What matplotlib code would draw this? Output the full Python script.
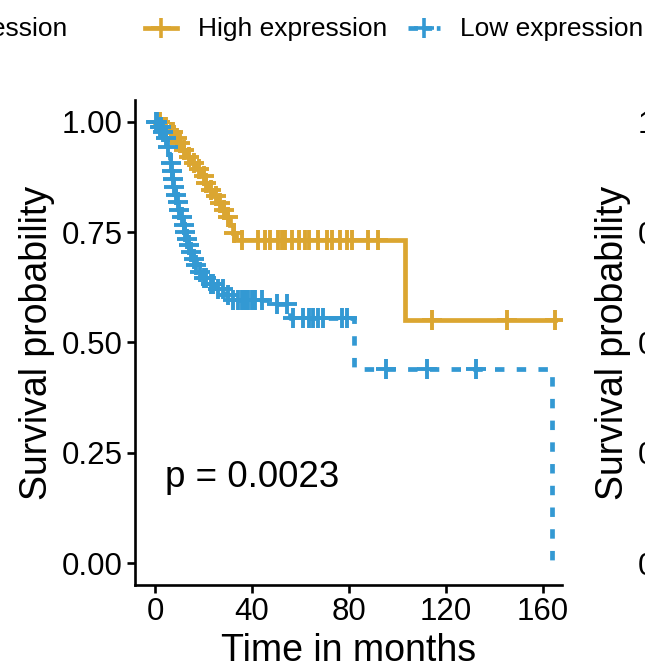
import numpy as np
import matplotlib
matplotlib.use("Agg")
import matplotlib.pyplot as plt
from matplotlib.lines import Line2D

plt.rcParams['font.family'] = ['Liberation Sans', 'DejaVu Sans']

# ---------------- data ----------------
groups = ["High expression", "Low expression"]
colors = ["#DBA631", "#3399D3"]

high_event_times = [3, 5.5, 8, 10, 11.5, 13, 15, 17, 19, 20.5, 22, 24, 26, 28, 29.5, 31, 32, 33.5, 103]
high_surv = [0.988, 0.976, 0.964, 0.951, 0.935, 0.921, 0.907, 0.893, 0.878, 0.862, 0.846, 0.831,
             0.816, 0.800, 0.783, 0.765, 0.748, 0.733, 0.55]
high_censor = [1, 2, 3.5, 4.5, 6.5, 7.5, 9, 10.5, 12, 14, 16, 18, 20, 21, 23, 25, 27, 28.5, 30, 32.5,
               35.8, 42.6, 45.4, 47.5, 50.9, 52.3, 53.7, 56.4, 59.2, 61.9, 63.3, 67.4, 70.9, 72.9,
               76.4, 79.1, 81.1, 88, 92, 114, 145, 165]
high_last = 165

low_event_times = [1.5, 3, 4, 5, 5.6, 6.2, 6.8, 7.2, 7.6, 8.2, 9, 9.6, 10.4, 11.2, 12, 12.8, 13.6,
                   14.5, 15.5, 16.8, 18, 19.8, 22, 25, 29, 31, 48, 55.5, 82, 163.7]
low_surv = [0.988, 0.977, 0.963, 0.943, 0.925, 0.907, 0.889, 0.87, 0.852, 0.835, 0.818, 0.80, 0.783,
            0.766, 0.75, 0.735, 0.72, 0.705, 0.69, 0.675, 0.66, 0.645, 0.632, 0.62, 0.608, 0.597,
            0.587, 0.556, 0.44, 0.0]
low_censor = [0.5, 1, 2, 2.5, 3.5, 4.5, 5.3, 6.5, 7, 7.4, 8, 8.6, 9.3, 10, 11, 11.8, 12.5, 13.2, 14,
              15, 16, 17, 18.5, 20, 21, 23, 24, 26, 28, 30.1, 32.2, 34.3, 35.9, 37.1, 38.4, 40, 41.3,
              44.2, 50.3, 54.5, 57, 61, 63.3, 65.2, 67.3, 69.3, 77.2, 79, 95.3, 112.1, 132.5]
low_last = 163.7

pval_text = "p = 0.0023"
x_ticks = [0, 40, 80, 120, 160]
y_ticks = [0.00, 0.25, 0.50, 0.75, 1.00]
y_ticklabels = ["0.00", "0.25", "0.50", "0.75", "1.00"]

# ---------------- figure ----------------
W, H = 645, 671
fig = plt.figure(figsize=(W / 100, H / 100), dpi=100)

def fpos(l, t, r, b):
    return [l / W, 1 - b / H, (r - l) / W, (b - t) / H]

ax = fig.add_axes(fpos(135, 100, 562, 585))
ax2 = fig.add_axes(fpos(711, 100, 1138, 585))

def style(a):
    a.set_xlim(-8.25, 167.8)
    a.set_ylim(-0.049, 1.049)
    for s in ["top", "right"]:
        a.spines[s].set_visible(False)
    for s in ["left", "bottom"]:
        a.spines[s].set_linewidth(1.9)
    a.tick_params(width=1.9, length=6, labelsize=22.5, colors="black", pad=3)
    a.set_xticks(x_ticks)
    a.set_yticks(y_ticks)
    a.set_yticklabels(y_ticklabels)
    a.set_ylabel("Survival probability", fontsize=27, labelpad=5)
    a.set_xlabel("Time in months", fontsize=27, labelpad=4)

style(ax)
style(ax2)

def km_line(times, surv, last):
    t = [0] + list(times) + [last]
    s = [1.0] + list(surv) + [surv[-1]]
    return t, s

def surv_at(times, surv, t):
    idx = np.searchsorted(np.asarray(times), t, side="right")
    return 1.0 if idx == 0 else surv[idx - 1]

series = [
    (high_event_times, high_surv, high_censor, high_last, "-"),
    (low_event_times, low_surv, low_censor, low_last, (0, (2.0, 2.6))),
]
for (et, sv, cen, last, ls), col in zip(series, colors):
    t, s = km_line(et, sv, last)
    ax.step(t, s, where="post", color=col, lw=3.4, linestyle=ls, clip_on=True,
            solid_joinstyle="miter")
    cy = [surv_at(et, sv, c) for c in cen]
    ax.plot(cen, cy, linestyle="none", marker="+", markersize=15, mew=2.8, color=col, clip_on=True)

ax.text(4, 0.195, pval_text, fontsize=26.5, ha="left", va="center")

# ---------------- legend (top strip) ----------------
lx = fig.add_axes([0, 0, 1, 1], facecolor="none")
lx.set_xlim(0, W)
lx.set_ylim(H, 0)
lx.axis("off")
ly = 28
lx.add_line(Line2D([145, 177], [ly, ly], color=colors[0], lw=3.4))
lx.plot([161], [ly], marker="+", markersize=14, mew=2.6, color=colors[0])
lx.text(198, ly + 1, groups[0], fontsize=19, ha="left", va="center")
lx.add_line(Line2D([408, 440], [ly, ly], color=colors[1], lw=3.4, linestyle=(0, (2.0, 1.0))))
lx.plot([424], [ly], marker="+", markersize=14, mew=2.6, color=colors[1])
lx.text(460, ly + 1, groups[1], fontsize=19, ha="left", va="center")
lx.text(67, ly + 1, groups[1], fontsize=19, ha="right", va="center")

fig.savefig("out.png", dpi=100)
